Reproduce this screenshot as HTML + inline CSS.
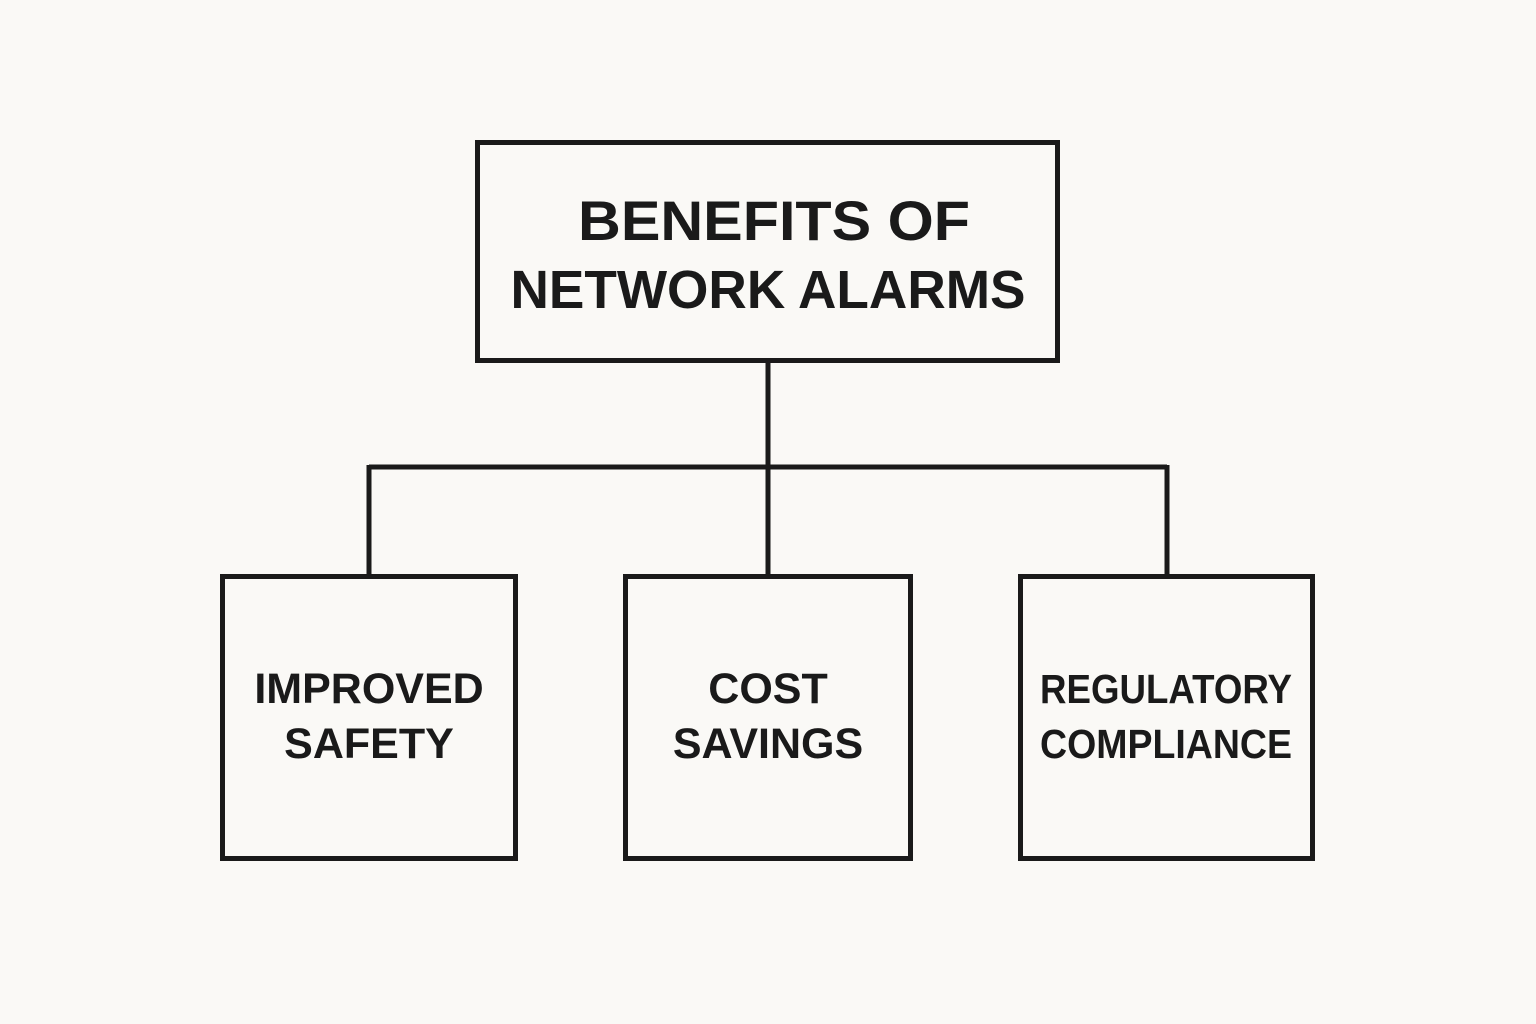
<!DOCTYPE html>
<html><head><meta charset="utf-8"><style>
html,body{margin:0;padding:0;background:#faf9f6;}
svg{display:block}
text{font-family:"Liberation Sans",sans-serif;font-weight:bold;fill:#1a1a1a;text-anchor:middle}
</style></head><body>
<svg width="1536" height="1024" viewBox="0 0 1536 1024">
<rect width="1536" height="1024" fill="#faf9f6"/>
<g fill="none" stroke="#1a1a1a" stroke-width="5">
<rect x="477.5" y="142.5" width="580" height="218"/>
<line x1="768" y1="361" x2="768" y2="576"/>
<line x1="369" y1="467" x2="1167" y2="467"/>
<line x1="369" y1="465" x2="369" y2="576"/>
<line x1="1167" y1="465" x2="1167" y2="576"/>
<rect x="222.5" y="576.5" width="293" height="282"/>
<rect x="625.5" y="576.5" width="285" height="282"/>
<rect x="1020.5" y="576.5" width="292" height="282"/>
</g>
<text x="774" y="240" font-size="56" textLength="392" lengthAdjust="spacingAndGlyphs">BENEFITS OF</text>
<text x="768" y="308" font-size="54" textLength="515" lengthAdjust="spacingAndGlyphs">NETWORK ALARMS</text>
<text x="369" y="703" font-size="43">IMPROVED</text>
<text x="369" y="758" font-size="43">SAFETY</text>
<text x="768" y="703" font-size="43">COST</text>
<text x="768" y="758" font-size="43">SAVINGS</text>
<text x="1166" y="703" font-size="41" textLength="252" lengthAdjust="spacingAndGlyphs">REGULATORY</text>
<text x="1166" y="758" font-size="41" textLength="252" lengthAdjust="spacingAndGlyphs">COMPLIANCE</text>
</svg>
</body></html>
